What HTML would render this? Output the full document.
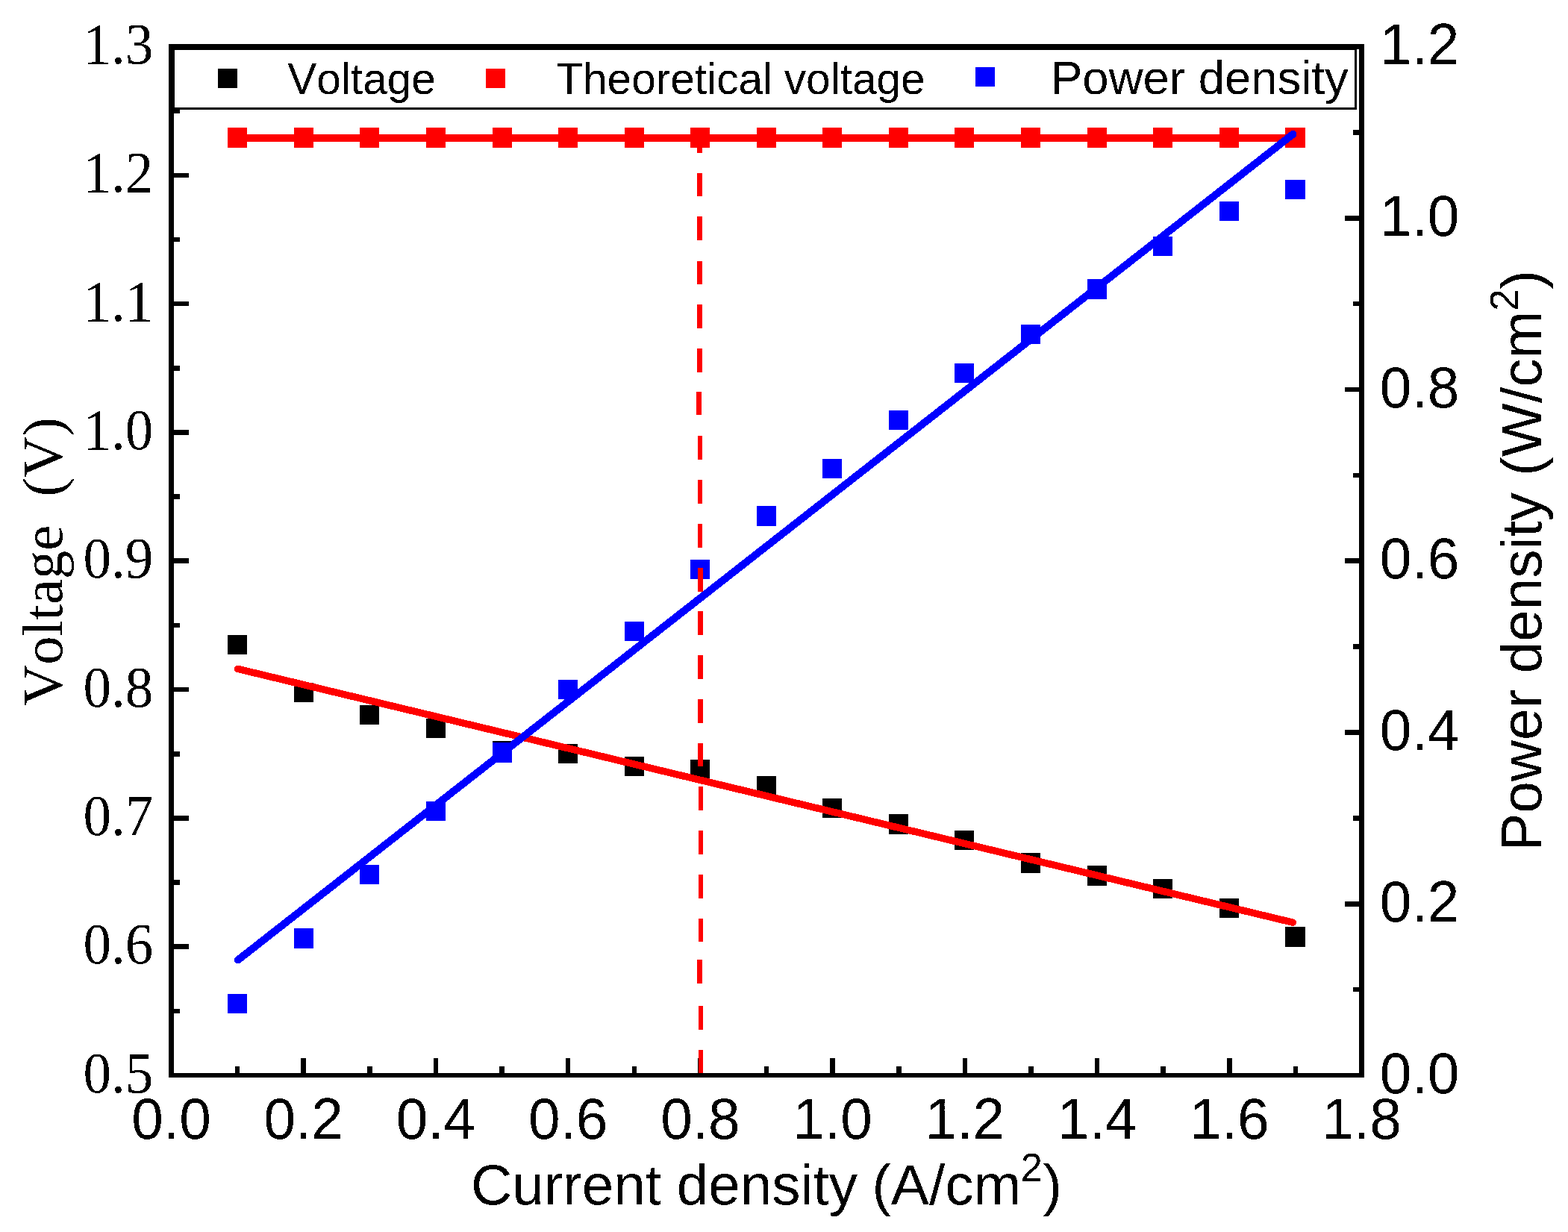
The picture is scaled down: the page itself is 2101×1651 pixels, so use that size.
<!DOCTYPE html>
<html lang="en"><head><meta charset="utf-8"><title>Polarization curve: voltage and power density vs current density</title>
<style>
html,body{margin:0;padding:0;background:#fff;}
body{width:2101px;height:1651px;overflow:hidden;}
svg{display:block;position:absolute;left:0;top:0;}
.sans{font-family:"Liberation Sans",Arial,Helvetica,sans-serif;}
.serif{font-family:"Liberation Serif","Times New Roman",Times,serif;}
text{fill:#000;font-kerning:none;font-variant-ligatures:none;white-space:pre;filter:url(#bin);}
</style></head><body>
<svg width="2101" height="1651" viewBox="0 0 2101 1651">
<defs><filter id="bin" x="-5%" y="-20%" width="110%" height="140%" color-interpolation-filters="sRGB"><feComponentTransfer><feFuncA type="discrete" tableValues="0 1"/></feComponentTransfer></filter></defs>
<rect x="0" y="0" width="2101" height="1651" fill="#fff"/>
<g shape-rendering="crispEdges">
<g id="voltage"><rect x="304.75" y="850.75" width="26.5" height="26.5" fill="#000"/><rect x="393.75" y="914.75" width="26.5" height="26.5" fill="#000"/><rect x="481.75" y="944.75" width="26.5" height="26.5" fill="#000"/><rect x="570.75" y="962.75" width="26.5" height="26.5" fill="#000"/><rect x="659.75" y="992.75" width="26.5" height="26.5" fill="#000"/><rect x="747.75" y="996.75" width="26.5" height="26.5" fill="#000"/><rect x="836.75" y="1013.75" width="26.5" height="26.5" fill="#000"/><rect x="924.75" y="1017.75" width="26.5" height="26.5" fill="#000"/><rect x="1013.75" y="1039.75" width="26.5" height="26.5" fill="#000"/><rect x="1101.75" y="1069.75" width="26.5" height="26.5" fill="#000"/><rect x="1190.75" y="1091.25" width="26.5" height="26.5" fill="#000"/><rect x="1278.75" y="1112.75" width="26.5" height="26.5" fill="#000"/><rect x="1367.75" y="1143.25" width="26.5" height="26.5" fill="#000"/><rect x="1456.75" y="1160.25" width="26.5" height="26.5" fill="#000"/><rect x="1544.75" y="1177.75" width="26.5" height="26.5" fill="#000"/><rect x="1633.75" y="1203.75" width="26.5" height="26.5" fill="#000"/><rect x="1722.25" y="1242.25" width="26.5" height="26.5" fill="#000"/></g>
<g id="theoretical">
<rect x="318" y="180" width="1418" height="10" fill="#f00"/>
<rect x="304.75" y="171.00" width="26.5" height="27" fill="#f00"/><rect x="393.75" y="171.00" width="26.5" height="27" fill="#f00"/><rect x="481.75" y="171.00" width="26.5" height="27" fill="#f00"/><rect x="570.75" y="171.00" width="26.5" height="27" fill="#f00"/><rect x="659.75" y="171.00" width="26.5" height="27" fill="#f00"/><rect x="747.75" y="171.00" width="26.5" height="27" fill="#f00"/><rect x="836.75" y="171.00" width="26.5" height="27" fill="#f00"/><rect x="924.75" y="171.00" width="26.5" height="27" fill="#f00"/><rect x="1013.75" y="171.00" width="26.5" height="27" fill="#f00"/><rect x="1101.75" y="171.00" width="26.5" height="27" fill="#f00"/><rect x="1190.75" y="171.00" width="26.5" height="27" fill="#f00"/><rect x="1278.75" y="171.00" width="26.5" height="27" fill="#f00"/><rect x="1367.75" y="171.00" width="26.5" height="27" fill="#f00"/><rect x="1456.75" y="171.00" width="26.5" height="27" fill="#f00"/><rect x="1544.75" y="171.00" width="26.5" height="27" fill="#f00"/><rect x="1633.75" y="171.00" width="26.5" height="27" fill="#f00"/><rect x="1722.25" y="171.00" width="26.5" height="27" fill="#f00"/>
</g>
<g id="power"><rect x="304.75" y="1331.75" width="26.5" height="26.5" fill="#00f"/><rect x="393.75" y="1244.25" width="26.5" height="26.5" fill="#00f"/><rect x="481.75" y="1158.75" width="26.5" height="26.5" fill="#00f"/><rect x="570.75" y="1073.75" width="26.5" height="26.5" fill="#00f"/><rect x="659.75" y="995.25" width="26.5" height="26.5" fill="#00f"/><rect x="747.75" y="910.75" width="26.5" height="26.5" fill="#00f"/><rect x="836.75" y="832.75" width="26.5" height="26.5" fill="#00f"/><rect x="924.75" y="749.75" width="26.5" height="26.5" fill="#00f"/><rect x="1013.75" y="678.25" width="26.5" height="26.5" fill="#00f"/><rect x="1101.75" y="614.75" width="26.5" height="26.5" fill="#00f"/><rect x="1190.75" y="549.75" width="26.5" height="26.5" fill="#00f"/><rect x="1278.75" y="486.75" width="26.5" height="26.5" fill="#00f"/><rect x="1367.75" y="434.75" width="26.5" height="26.5" fill="#00f"/><rect x="1456.75" y="374.25" width="26.5" height="26.5" fill="#00f"/><rect x="1544.75" y="316.75" width="26.5" height="26.5" fill="#00f"/><rect x="1633.75" y="269.75" width="26.5" height="26.5" fill="#00f"/><rect x="1722.25" y="240.75" width="26.5" height="26.5" fill="#00f"/></g>
</g>
<g id="axes" shape-rendering="crispEdges" fill="#000">
<rect x="226.22" y="59.22" width="1601.56" height="6.56"/><rect x="226.22" y="1437.72" width="1601.56" height="6.56"/><rect x="226.22" y="59.22" width="6.56" height="1385.06"/><rect x="1821.22" y="59.22" width="6.56" height="1385.06"/>
<rect x="233.00" y="1351.56" width="8.00" height="6.56"/><rect x="233.00" y="1265.41" width="20.00" height="6.56"/><rect x="233.00" y="1179.25" width="8.00" height="6.56"/><rect x="233.00" y="1093.10" width="20.00" height="6.56"/><rect x="233.00" y="1006.94" width="8.00" height="6.56"/><rect x="233.00" y="920.78" width="20.00" height="6.56"/><rect x="233.00" y="834.63" width="8.00" height="6.56"/><rect x="233.00" y="748.47" width="20.00" height="6.56"/><rect x="233.00" y="662.31" width="8.00" height="6.56"/><rect x="233.00" y="576.16" width="20.00" height="6.56"/><rect x="233.00" y="490.00" width="8.00" height="6.56"/><rect x="233.00" y="403.85" width="20.00" height="6.56"/><rect x="233.00" y="317.69" width="8.00" height="6.56"/><rect x="233.00" y="231.53" width="20.00" height="6.56"/><rect x="233.00" y="145.38" width="8.00" height="6.56"/><rect x="1813.00" y="1322.85" width="8.00" height="6.56"/><rect x="1802.00" y="1207.97" width="19.00" height="6.56"/><rect x="1813.00" y="1093.10" width="8.00" height="6.56"/><rect x="1802.00" y="978.22" width="19.00" height="6.56"/><rect x="1813.00" y="863.35" width="8.00" height="6.56"/><rect x="1802.00" y="748.47" width="19.00" height="6.56"/><rect x="1813.00" y="633.59" width="8.00" height="6.56"/><rect x="1802.00" y="518.72" width="19.00" height="6.56"/><rect x="1813.00" y="403.84" width="8.00" height="6.56"/><rect x="1802.00" y="288.97" width="19.00" height="6.56"/><rect x="1813.00" y="174.09" width="8.00" height="6.56"/><rect x="314.83" y="1429.00" width="6.56" height="9.00"/><rect x="403.44" y="1418.00" width="6.56" height="20.00"/><rect x="492.05" y="1429.00" width="6.56" height="9.00"/><rect x="580.66" y="1418.00" width="6.56" height="20.00"/><rect x="669.28" y="1429.00" width="6.56" height="9.00"/><rect x="757.89" y="1418.00" width="6.56" height="20.00"/><rect x="846.50" y="1429.00" width="6.56" height="9.00"/><rect x="935.11" y="1418.00" width="6.56" height="20.00"/><rect x="1023.72" y="1429.00" width="6.56" height="9.00"/><rect x="1112.33" y="1418.00" width="6.56" height="20.00"/><rect x="1200.94" y="1429.00" width="6.56" height="9.00"/><rect x="1289.55" y="1418.00" width="6.56" height="20.00"/><rect x="1378.16" y="1429.00" width="6.56" height="9.00"/><rect x="1466.78" y="1418.00" width="6.56" height="20.00"/><rect x="1555.39" y="1429.00" width="6.56" height="9.00"/><rect x="1644.00" y="1418.00" width="6.56" height="20.00"/><rect x="1732.61" y="1429.00" width="6.56" height="9.00"/>
</g>
<g id="guide" shape-rendering="crispEdges" fill="#f00"><rect x="934" y="173" width="7" height="32"/><rect x="934" y="232" width="7" height="31"/><rect x="934" y="290" width="7" height="32"/><rect x="934" y="350" width="7" height="31"/><rect x="934" y="408" width="7" height="32"/><rect x="934" y="467" width="7" height="32"/><rect x="933" y="525" width="7" height="31"/><rect x="935" y="584" width="6" height="32"/><rect x="935" y="643" width="6" height="32"/><rect x="935" y="702" width="6" height="32"/><rect x="935" y="761" width="7" height="32"/><rect x="935" y="819" width="7" height="32"/><rect x="935" y="878" width="7" height="32"/><rect x="935" y="937" width="7" height="32"/><rect x="935" y="996" width="7" height="31"/><rect x="936" y="1054" width="6" height="32"/><rect x="936" y="1113" width="6" height="32"/><rect x="936" y="1172" width="6" height="32"/><rect x="936" y="1231" width="6" height="31"/><rect x="934" y="1286" width="7" height="32"/><rect x="936" y="1348" width="6" height="32"/><rect x="936" y="1407" width="6" height="31"/></g>
<g shape-rendering="crispEdges">
<line x1="318.7" y1="896.4" x2="1732.3" y2="1236.2" stroke="#f00" stroke-width="9.5" stroke-linecap="round"/>
<line x1="318.8" y1="1286.5" x2="1732.3" y2="179.9" stroke="#00f" stroke-width="10" stroke-linecap="round"/>
</g>
<g id="legend">
<rect x="232.5" y="65.5" width="1584" height="80" fill="#fff" stroke="#000" stroke-width="3" shape-rendering="crispEdges"/>
<g shape-rendering="crispEdges"><rect x="292" y="92" width="26" height="26" fill="#000"/><rect x="651" y="92" width="26" height="26" fill="#f00"/><rect x="1307" y="90" width="26" height="26" fill="#00f"/></g>
<g class="sans">
<text y="126.00" font-size="58.6" xml:space="preserve"><tspan x="385.20">Voltage</tspan></text>
<text y="126.00" font-size="58.6" xml:space="preserve"><tspan x="745.20">Theoretical </tspan><tspan x="1050.76">voltage</tspan></text>
<text y="126.00" font-size="63.5" xml:space="preserve"><tspan x="1408.00">Power </tspan><tspan x="1605.63">density</tspan></text>
</g>
</g>
<g shape-rendering="crispEdges" fill="#000"><rect x="226.22" y="59.22" width="1601.56" height="6.56"/><rect x="226.22" y="1437.72" width="1601.56" height="6.56"/><rect x="226.22" y="59.22" width="6.56" height="1385.06"/><rect x="1821.22" y="59.22" width="6.56" height="1385.06"/><rect x="233.00" y="145.38" width="8.00" height="6.56"/><rect x="1813.00" y="174.09" width="8.00" height="6.56"/></g>
<g id="xlabels" class="sans" font-size="76.6" text-anchor="middle">
<text transform="translate(229.5,1526) scale(1,1.027)">0.0</text>
<text transform="translate(406.7,1526) scale(1,1.027)">0.2</text>
<text transform="translate(583.9,1526) scale(1,1.027)">0.4</text>
<text transform="translate(761.2,1526) scale(1,1.027)">0.6</text>
<text transform="translate(938.4,1526) scale(1,1.027)">0.8</text>
<text transform="translate(1115.6,1526) scale(1,1.027)">1.0</text>
<text transform="translate(1292.8,1526) scale(1,1.027)">1.2</text>
<text transform="translate(1470.1,1526) scale(1,1.027)">1.4</text>
<text transform="translate(1647.3,1526) scale(1,1.027)">1.6</text>
<text transform="translate(1824.5,1526) scale(1,1.027)">1.8</text>
</g>
<g id="ylabels" class="serif" font-size="76.6" text-anchor="end">
<text transform="translate(205.3,1463.5) scale(0.98,1.034)">0.5</text>
<text transform="translate(205.3,1291.2) scale(0.98,1.034)">0.6</text>
<text transform="translate(205.3,1118.9) scale(0.98,1.034)">0.7</text>
<text transform="translate(205.3,946.6) scale(0.98,1.034)">0.8</text>
<text transform="translate(205.3,774.3) scale(0.98,1.034)">0.9</text>
<text transform="translate(205.3,601.9) scale(0.98,1.034)">1.0</text>
<text transform="translate(205.3,429.6) scale(0.98,1.034)">1.1</text>
<text transform="translate(205.3,257.3) scale(0.98,1.034)">1.2</text>
<text transform="translate(205.3,85.0) scale(0.98,1.034)">1.3</text>
</g>
<g id="y2labels" class="sans" font-size="76.6" text-anchor="start">
<text transform="translate(1848.8,1464.5) scale(1,1.027)">0.0</text>
<text transform="translate(1848.8,1234.8) scale(1,1.027)">0.2</text>
<text transform="translate(1848.8,1005.0) scale(1,1.027)">0.4</text>
<text transform="translate(1848.8,775.2) scale(1,1.027)">0.6</text>
<text transform="translate(1848.8,545.5) scale(1,1.027)">0.8</text>
<text transform="translate(1848.8,315.8) scale(1,1.027)">1.0</text>
<text transform="translate(1848.8,86.0) scale(1,1.027)">1.2</text>
</g>
<g id="xtitle" class="sans">
<text y="1614.00" font-size="76.5" xml:space="preserve"><tspan x="631.00">Current </tspan><tspan x="906.64">density </tspan><tspan x="1168.38">(A/cm</tspan><tspan x="1367.51" dy="-31.00" font-size="53">2</tspan><tspan x="1397.59" dy="31.00">)</tspan></text>
</g>
<text id="ytitle" class="serif" transform="translate(83,946) rotate(-90)" font-size="76.5" xml:space="preserve">Voltage  (V)</text>
<g id="y2title" class="sans" transform="translate(2065,1141) rotate(-90)">
<text y="0.00" font-size="76.5" xml:space="preserve"><tspan x="0.30">Power </tspan><tspan x="238.69">density </tspan><tspan x="503.23">(W/cm</tspan><tspan x="724.14" dy="-31.00" font-size="53">2</tspan><tspan x="753.42" dy="31.00">)</tspan></text>
</g>
</svg></body></html>
